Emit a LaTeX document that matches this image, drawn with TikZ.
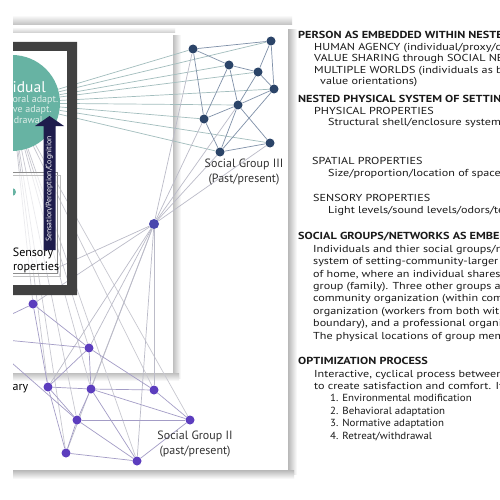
\documentclass[tikz,border=0pt]{standalone}
\usepackage{fontspec}
\setmainfont{PT Sans}
\newfontfamily\colfont{PT Sans}[FakeStretch=1.2]
\newfontfamily\listfont{PT Sans}[FakeStretch=1.06]
\definecolor{sgblue}{HTML}{2B4468}
\definecolor{sgpurple}{HTML}{5C3DBE}
\definecolor{midnode}{HTML}{4A47AE}
\definecolor{tealc}{HTML}{67B3A3}
\definecolor{framegray}{HTML}{414141}
\definecolor{navyarrow}{HTML}{1E1C4C}
\definecolor{edgeblue}{HTML}{7F90A8}
\definecolor{edgeteal}{HTML}{A2BDBD}
\definecolor{edgegray}{HTML}{BBBBC8}
\definecolor{edgelight}{HTML}{C8C8D0}
\definecolor{edgepurple}{HTML}{A39CC6}
\definecolor{txt}{HTML}{1A1A1A}
\definecolor{circtxt}{HTML}{DDEDE8}
\pgfdeclarelayer{cards}
\pgfdeclarelayer{edges}
\pgfsetlayers{cards,edges,main}
\tikzset{
 dotblue/.style={circle,fill=sgblue,inner sep=0pt,minimum size=9pt},
 dotpurple/.style={circle,fill=sgpurple,inner sep=0pt,minimum size=9pt},
 dotmid/.style={circle,fill=midnode,inner sep=0pt,minimum size=10pt},
 ln/.style={line width=0.7pt},
 headline/.style={anchor=base west,font=\colfont\bfseries\fontsize{10.2}{12}\selectfont,text=txt,inner sep=0pt},
 bodyline/.style={anchor=base west,font=\colfont\fontsize{10.1}{12}\selectfont,text=txt,inner sep=0pt},
 listline/.style={anchor=base west,font=\listfont\fontsize{10.3}{12}\selectfont,text=txt,inner sep=0pt},
 grouplabel/.style={font=\fontsize{12}{15}\selectfont,text=black!80,inner sep=0pt,align=center},
 circline/.style={anchor=east,font=\fontsize{10}{10}\selectfont,text=circtxt,inner sep=0pt},
}
\begin{document}
\begin{tikzpicture}[x=1pt,y=-1pt]
\useasboundingbox (0,0) rectangle (500,500);

% ---------- cards and shadows ----------
\begin{pgfonlayer}{cards}
\fill[white] (0,0) rectangle (500,500);
\begin{scope}
\clip (13,0) rectangle (500,500);
\shade[top color=white,bottom color=black!25] (13,15) rectangle (292,25);
\shade[left color=black!28,right color=white] (288,30) rectangle (297,474);
\shade[top color=black!28,bottom color=white] (13,470) rectangle (294,479);
\fill[white] (13,27) rectangle (288,470);
\shade[top color=white,bottom color=black!20] (13,27) rectangle (175,33);
\shade[left color=black!25,right color=white] (173,36) rectangle (181,378);
\shade[top color=black!25,bottom color=white] (13,373) rectangle (179,381);
\fill[white] (13,33) rectangle (173,373);
\end{scope}
\end{pgfonlayer}

\begin{scope}
\clip (13,0) rectangle (500,500);
% ---------- frame, individual, arrow, sensory box ----------
\fill[framegray,even odd rule] (-10,42) rectangle (77,295) (-10,51) rectangle (67,285);
\node[circle,fill=tealc,inner sep=0pt,minimum size=96pt] (indiv) at (12,103) {};
\node[anchor=east,text=white,font=\fontsize{15.5}{16}\selectfont,inner sep=0pt] (indivtext) at (46,87) {Individual};
\node[circline] (c1) at (58.5,100) {Behavioral adapt.};
\node[circline] (c2) at (52,110) {Normative adapt.};
\node[circline] (c3) at (43,120) {Withdrawal};
\draw[black!45,fill=white,fill opacity=0.65] (-10,172) rectangle (57,273);
\draw[black!25] (-10,175) -- (60,175) -- (60,276) -- (-10,276);
\coordinate (sens) at (57,268);
\node[circle,fill=tealc,inner sep=0pt,minimum size=8pt] (sensdot) at (12,192) {};
\node[font=\fontsize{12}{14}\selectfont,align=center,inner sep=0pt] (senstext) at (33,260) {Sensory\\Properties};
\fill[navyarrow] (43.5,250) -- (43.5,126) -- (35,126) -- (49.5,116) -- (64,126) -- (55.5,126) -- (55.5,250) -- cycle;
\node[rotate=90,text=white,font=\fontsize{7.8}{8}\selectfont,inner sep=0pt] (arrowtext) at (49.5,189) {Sensation/Perception/Cognition};
\node[anchor=base east,font=\fontsize{12}{13}\selectfont,inner sep=0pt] (bound) at (28.5,390) {Boundary};

% ---------- Social Group III ----------
\node[dotblue] (A) at (193,49) {};
\node[dotblue] (B) at (271,41) {};
\node[dotblue] (C) at (229,65) {};
\node[dotblue] (D) at (258,72) {};
\node[dotblue] (E) at (274,89) {};
\node[dotblue] (F) at (238,105) {};
\node[dotblue] (G) at (204,119) {};
\node[dotblue] (H) at (270,143) {};
\node[dotblue] (I) at (220,152) {};
\node[grouplabel] (sg3) at (244,172) {Social Group III\\(Past/present)};

% ---------- middle node ----------
\node[dotmid] (M) at (154,224) {};

% ---------- Social Group II ----------
\node[dotpurple] (P1) at (33,304) {};
\node[dotpurple] (P2) at (89,348) {};
\node[dotpurple] (P3) at (48,387) {};
\node[dotpurple] (P4) at (91,389) {};
\node[dotpurple] (P5) at (154,390) {};
\node[dotpurple] (P6) at (77,420) {};
\node[dotpurple] (P7) at (190,420) {};
\node[dotpurple] (P8) at (66,453) {};
\node[dotpurple] (P9) at (137,461) {};
\node[grouplabel] (sg2) at (195,444.5) {Social Group II\\(past/present)};

\coordinate (L1) at (-15,327);
\coordinate (L2) at (-15,338);
\coordinate (L3) at (-20,335);
\end{scope}

% ---------- connectors ----------
\begin{pgfonlayer}{edges}
\begin{scope}
\clip (13,0) rectangle (500,500);
\foreach \t in {P1,P2,P3,P4,P5,P6,P7,P8,P9}
  \draw[ln,edgelight] (indiv) -- (\t);
\foreach \t in {A,B,C,D,E,F,G,H,I}
  \draw[ln,edgeteal] (indiv) -- (\t);
\foreach \t in {A,G,I,F,H,P1,P2,P3,P4,P5,P8,P9}
  \draw[ln,edgegray] (M) -- (\t);
\draw[ln,edgegray] (M) -- (sens);
\foreach \a/\b in {A/B,A/C,A/G,C/D,B/D,B/E,C/G,C/F,D/E,D/F,E/F,F/G,F/H,F/I,G/I,I/H,E/I}
  \draw[ln,edgeblue] (\a) -- (\b);
\foreach \a/\b in {P1/P2,P1/P3,P2/P3,P2/P4,P2/P5,P3/P4,P4/P5,P3/P6,P4/P6,P4/P7,P6/P7,P6/P8,P8/P9,P7/P9,P4/P9,P6/P9,P3/P8,P5/P7}
  \draw[ln,edgepurple] (\a) -- (\b);
\draw[ln,edgepurple] (L1) -- (P1);
\draw[ln,edgepurple] (L2) -- (P2);
\draw[ln,edgepurple] (L3) -- (P6);
\end{scope}
\end{pgfonlayer}

% ---------- right-hand text ----------
\begin{scope}
\clip (295,0) rectangle (500,500);
\node[headline] (t1) at (298,38.5) {PERSON AS EMBEDDED WITHIN NESTED SYSTEMS};
\node[bodyline] (t2) at (314,50.2) {HUMAN AGENCY (individual/proxy/collective)};
\node[bodyline] (t3) at (314,61.8) {VALUE SHARING through SOCIAL NETWORKS};
\node[bodyline] (t4) at (314,73.5) {MULTIPLE WORLDS (individuals as bearers of};
\node[bodyline] (t5) at (320,85) {value orientations)};
\node[headline] (t6) at (298,102.8) {NESTED PHYSICAL SYSTEM OF SETTINGS};
\node[bodyline] (t7) at (314,114.5) {PHYSICAL PROPERTIES};
\node[bodyline] (t8) at (328,125.8) {Structural shell/enclosure systems};
\node[bodyline] (t9) at (312,164.2) {SPATIAL PROPERTIES};
\node[bodyline] (t10) at (328,176.2) {Size/proportion/location of spaces};
\node[bodyline] (t11) at (313,201.8) {SENSORY PROPERTIES};
\node[bodyline] (t12) at (328,213.5) {Light levels/sound levels/odors/temperature};
\node[headline] (t13) at (298,239.5) {SOCIAL GROUPS/NETWORKS AS EMBEDDED};
\node[bodyline] (t14) at (313,252) {Individuals and thier social groups/networks};
\node[bodyline] (t15) at (313,264.5) {system of setting-community-larger};
\node[bodyline] (t16) at (313,277) {of home, where an individual shares};
\node[bodyline] (t17) at (313,289.5) {group (family). Three other groups are};
\node[bodyline] (t18) at (313,301.5) {community organization (within community};
\node[bodyline] (t19) at (313,314) {organization (workers from both within};
\node[bodyline] (t20) at (313,326.5) {boundary), and a professional organization};
\node[bodyline] (t21) at (313,339) {The physical locations of group members};
\node[headline] (t22) at (298,364.2) {OPTIMIZATION PROCESS};
\node[bodyline] (t23) at (314,377.5) {Interactive, cyclical process between};
\node[bodyline] (t24) at (314,389.5) {to create satisfaction and comfort. It};
\node[listline] (t25) at (330,401.8) {1. Environmental modification};
\node[listline] (t26) at (330,414.5) {2. Behavioral adaptation};
\node[listline] (t27) at (330,426.8) {3. Normative adaptation};
\node[listline] (t28) at (330,439.5) {4. Retreat/withdrawal};
\end{scope}
\end{tikzpicture}
\end{document}
